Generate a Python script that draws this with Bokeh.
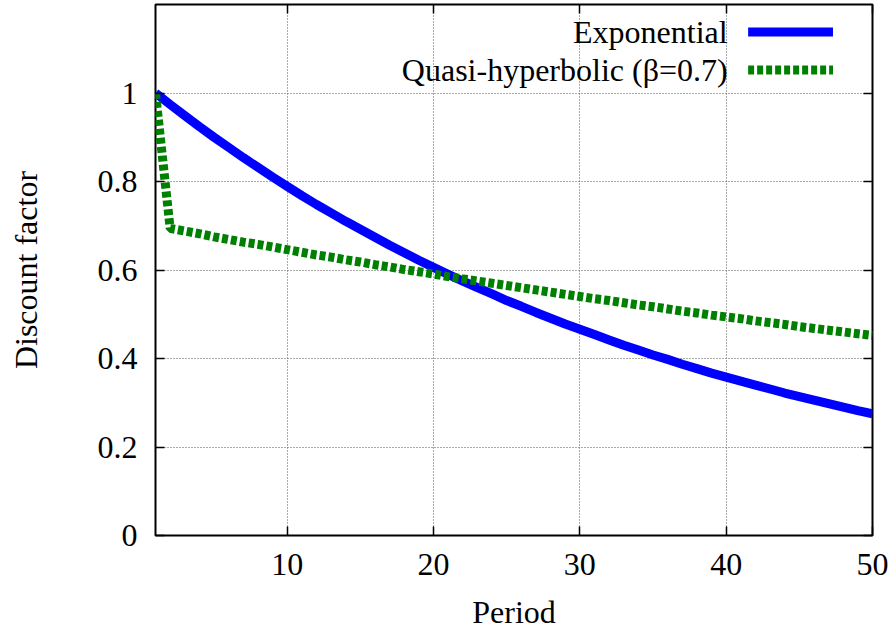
from bokeh.plotting import figure
from bokeh.models import Range1d, FixedTicker, LinearAxis, CustomJSTickFormatter, Label, Arrow
from bokeh.embed import file_html
from bokeh.resources import INLINE

# ---- data ----
periods = list(range(1, 51))
exponential = [1.000, 0.974, 0.949, 0.924, 0.900, 0.877, 0.854, 0.832, 0.810, 0.789,
               0.768, 0.748, 0.729, 0.710, 0.692, 0.674, 0.656, 0.639, 0.622, 0.606,
               0.590, 0.575, 0.560, 0.546, 0.531, 0.518, 0.504, 0.491, 0.478, 0.466,
               0.454, 0.442, 0.430, 0.419, 0.408, 0.398, 0.387, 0.377, 0.367, 0.358,
               0.349, 0.340, 0.331, 0.322, 0.314, 0.306, 0.298, 0.290, 0.282, 0.275]
quasi_hyperbolic = [1.000, 0.694, 0.688, 0.682, 0.675, 0.669, 0.663, 0.658, 0.652, 0.646,
                    0.640, 0.634, 0.629, 0.623, 0.618, 0.612, 0.607, 0.601, 0.596, 0.591,
                    0.585, 0.580, 0.575, 0.570, 0.565, 0.560, 0.555, 0.550, 0.545, 0.540,
                    0.535, 0.531, 0.526, 0.521, 0.517, 0.512, 0.507, 0.503, 0.498, 0.494,
                    0.490, 0.485, 0.481, 0.477, 0.472, 0.468, 0.464, 0.460, 0.456, 0.452]
x_ticks = [10, 20, 30, 40, 50]
y_ticks = [0, 0.2, 0.4, 0.6, 0.8, 1.0]
series_labels = ["Exponential", "Quasi-hyperbolic (\u03b2=0.7)"]
series_colors = ["#0000ff", "#008000"]

FONT = "Liberation Serif"
FS = "32px"

p = figure(width=896, height=632, output_backend="svg", toolbar_location=None,
           x_range=Range1d(1, 50), y_range=Range1d(0, 1.2),
           min_border_left=155, min_border_right=24, min_border_top=4, min_border_bottom=97)
p.background_fill_color = "white"
p.border_fill_color = "white"
p.outline_line_color = "black"
p.outline_line_width = 2

fmt = CustomJSTickFormatter(code="return String(tick);")

for ax, ticks in ((p.xaxis[0], x_ticks), (p.yaxis[0], y_ticks)):
    ax.ticker = FixedTicker(ticks=ticks)
    ax.formatter = fmt
    ax.major_tick_in = 9
    ax.major_tick_out = 0
    ax.major_tick_line_width = 1.5
    ax.major_tick_line_color = "black"
    ax.minor_tick_line_color = None
    ax.axis_line_color = None
    ax.major_label_text_font = FONT
    ax.major_label_text_font_size = FS
    ax.major_label_text_color = "black"
    ax.axis_label_text_font = FONT
    ax.axis_label_text_font_size = FS
    ax.axis_label_text_font_style = "normal"
    ax.axis_label_text_color = "black"

p.xaxis.axis_label = "Period"
p.yaxis.axis_label = "Discount factor"
p.xaxis.major_label_standoff = 18
p.xaxis.axis_label_standoff = 16
p.yaxis.major_label_standoff = 18
p.yaxis.axis_label_standoff = 51

# mirrored ticks on top and right
for loc, ticks in (("above", x_ticks), ("right", y_ticks)):
    ax = LinearAxis(ticker=FixedTicker(ticks=ticks), major_tick_in=9, major_tick_out=0,
                    major_tick_line_width=1.5, major_tick_line_color="black",
                    minor_tick_line_color=None, axis_line_color=None,
                    major_label_text_font_size="0px", major_label_text_color=None,
                    major_label_standoff=0)
    p.add_layout(ax, loc)

p.xgrid.ticker = FixedTicker(ticks=[t for t in x_ticks if t < 50])
p.ygrid.ticker = FixedTicker(ticks=[t for t in y_ticks if t > 0])
for g in (p.xgrid, p.ygrid):
    g.grid_line_color = "#555555"
    g.grid_line_width = 1
    g.grid_line_dash = "1 2"

p.line(periods, exponential, line_color=series_colors[0], line_width=9)
p.line(periods, quasi_hyperbolic, line_color=series_colors[1], line_width=9, line_dash="6 3")

# key (text on the left, sample on the right)
key_y = [1.138, 1.052]
for lab, col, yy, dash in zip(series_labels, series_colors, key_y, ["solid", "6 3"]):
    p.add_layout(Label(x=40.1, y=yy, text=lab, text_align="right", text_baseline="middle",
                       text_font=FONT, text_font_size=FS, text_color="black"))
    p.add_layout(Arrow(x_start=41.5, y_start=yy, x_end=47.3, y_end=yy, end=None,
                       line_color=col, line_width=9, line_dash=dash))

open("out.html", "w").write(file_html(p, INLINE))
